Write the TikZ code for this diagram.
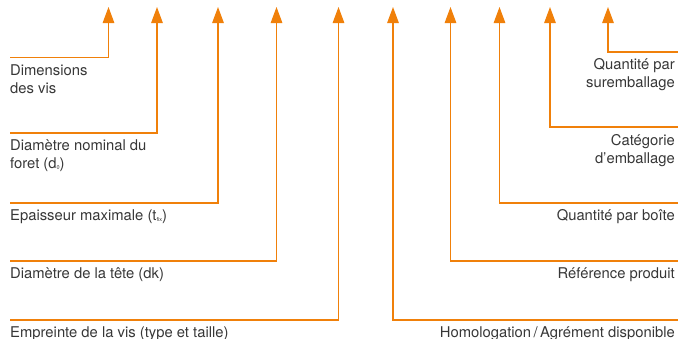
\documentclass[tikz,border=0pt]{standalone}
\usepackage{fontspec}
\setmainfont{TeX Gyre Heros}
\usetikzlibrary{arrows.meta}
\definecolor{orng}{RGB}{240,128,10}
\definecolor{txt}{RGB}{55,55,55}
\newcommand{\tinysub}[1]{\raisebox{-1.2pt}{\fontsize{5.5}{6}\selectfont #1}}
\begin{document}
\begin{tikzpicture}[x=1pt,y=-1pt,
  conn/.style={draw=orng,line width=1.3pt,-{Triangle[length=16pt,width=11.5pt]}},
  lbl/.style={inner sep=0pt,text=txt,font=\fontsize{14.8}{18}\selectfont},
  lleft/.style={lbl,anchor=base west,align=left},
  lright/.style={lbl,anchor=base east,align=right}]
\useasboundingbox (0,0) rectangle (678,338);
% tips
\coordinate (t1) at (108.5,7);
\coordinate (t2) at (157,7);
\coordinate (t3) at (218,7);
\coordinate (t4) at (276.5,7);
\coordinate (t5) at (338.5,7);
\coordinate (t6) at (393,7);
\coordinate (t7) at (450.5,7);
\coordinate (t8) at (499.5,7);
\coordinate (t9) at (550,7);
\coordinate (t10) at (608,7);
% free ends
\coordinate (e1) at (10,57.5);
\coordinate (e2) at (10,133);
\coordinate (e3) at (10,203);
\coordinate (e4) at (10,261);
\coordinate (e5) at (10,320);
\coordinate (e6) at (678,320);
\coordinate (e7) at (678,261);
\coordinate (e8) at (678,203);
\coordinate (e9) at (678,127);
\coordinate (e10) at (678,52);
% connectors
\draw[conn] (e1) -| (t1);
\draw[conn] (e2) -| (t2);
\draw[conn] (e3) -| (t3);
\draw[conn] (e4) -| (t4);
\draw[conn] (e5) -| (t5);
\draw[conn] (e6) -| (t6);
\draw[conn] (e7) -| (t7);
\draw[conn] (e8) -| (t8);
\draw[conn] (e9) -| (t9);
\draw[conn] (e10) -| (t10);
% labels (base = baseline of last line)
\node[lleft] (l1) at (10,93) {Dimensions\\des vis};
\node[lleft] (l2) at (10,168.5) {Diamètre nominal du\\foret (d\tinysub{0})};
\node[lleft] (l3) at (10,220.5) {Epaisseur maximale (t\tinysub{fix})};
\node[lleft] (l4) at (10,278.5) {Diamètre de la tête (dk)};
\node[lleft] (l5) at (10,337.5) {Empreinte de la vis (type et taille)};
\node[lright] (l6) at (675,337.5) {Homologation\thinspace/\thinspace Agrément disponible};
\node[lright] (l7) at (675,278.5) {Référence produit};
\node[lright] (l8) at (675,220.5) {Quantité par boîte};
\node[lright] (l9) at (675,163) {Catégorie\\d’emballage};
\node[lright] (l10) at (675,87) {Quantité par\\suremballage};
\end{tikzpicture}
\end{document}
